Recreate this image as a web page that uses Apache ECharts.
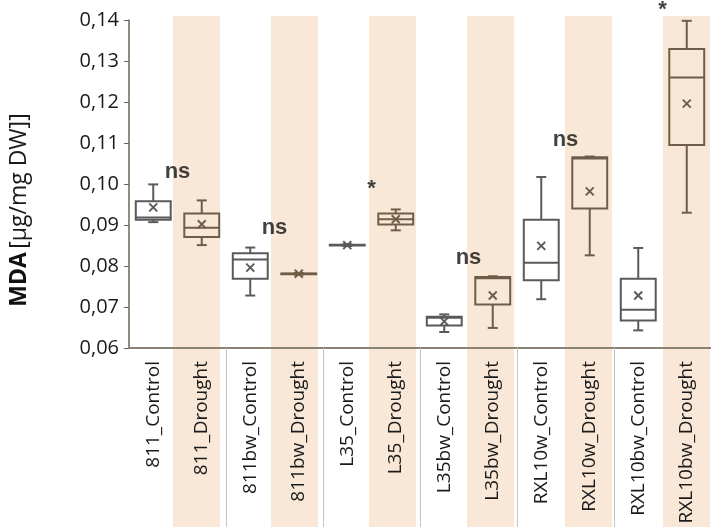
<!DOCTYPE html>
<html>
<head>
<meta charset="utf-8">
<script src="https://cdn.jsdelivr.net/npm/echarts@6/dist/echarts.min.js"></script>
<style>html,body{margin:0;padding:0;background:#fff;}#c{width:711px;height:530px;}</style>
</head>
<body>
<div id="c"></div>
<script>
const categories = ['811_Control','811_Drought','811bw_Control','811bw_Drought','L35_Control','L35_Drought','L35bw_Control','L35bw_Drought','RXL10w_Control','RXL10w_Drought','RXL10bw_Control','RXL10bw_Drought'];
const minV   = [0.0907, 0.0851, 0.0728, 0.0779, 0.0849, 0.0887, 0.0639, 0.0649, 0.0719, 0.0826, 0.0643, 0.0930];
const q1V    = [0.0913, 0.0871, 0.0769, 0.0780, 0.0850, 0.0901, 0.0655, 0.0706, 0.0765, 0.0940, 0.0667, 0.1095];
const medV   = [0.0918, 0.0893, 0.0816, 0.0781, 0.0851, 0.0914, 0.0674, 0.0770, 0.0808, 0.1062, 0.0693, 0.1260];
const q3V    = [0.0958, 0.0928, 0.0831, 0.0782, 0.0852, 0.0928, 0.0676, 0.0773, 0.0913, 0.1065, 0.0769, 0.1329];
const maxV   = [0.0999, 0.0960, 0.0845, 0.0783, 0.0853, 0.0938, 0.0682, 0.0775, 0.1017, 0.1067, 0.0844, 0.1398];
const meanV  = [0.0943, 0.0902, 0.0796, 0.0781, 0.0851, 0.0914, 0.0665, 0.0728, 0.0849, 0.0982, 0.0728, 0.1196];
const sigCat = [1, 3, 5, 7, 9, 11];
const sigText = ['ns', 'ns', '*', 'ns', 'ns', '*'];
const sigY = [0.1029, 0.0892, 0.0987, 0.0819, 0.1107, 0.1424];
const yTicks = {min: 0.06, max: 0.14, interval: 0.01};

const CTRL = '#5a5a5a', DRT = '#6f5d48', BAND = '#f9e8d7';
const isDrought = i => categories[i].indexOf('Drought') >= 0;

const boxData = categories.map((c, i) => [i, minV[i], q1V[i], medV[i], q3V[i], maxV[i], meanV[i]]);

function renderBox(params, api) {
  const i = api.value(0);
  const col = isDrought(i) ? DRT : CTRL;
  const bw = api.size([1, 0])[0] * 0.72;
  const capW = 10, xs = 4;
  const p = k => api.coord([i, api.value(k)]);
  const pMin = p(1), pQ1 = p(2), pMed = p(3), pQ3 = p(4), pMax = p(5), pMean = p(6);
  const cx = pMin[0];
  const st = {stroke: col, lineWidth: 2, fill: null};
  return {type: 'group', children: [
    {type: 'line', shape: {x1: cx, y1: pMax[1], x2: cx, y2: pQ3[1]}, style: st},
    {type: 'line', shape: {x1: cx - capW / 2, y1: pMax[1], x2: cx + capW / 2, y2: pMax[1]}, style: st},
    {type: 'line', shape: {x1: cx, y1: pMin[1], x2: cx, y2: pQ1[1]}, style: st},
    {type: 'line', shape: {x1: cx - capW / 2, y1: pMin[1], x2: cx + capW / 2, y2: pMin[1]}, style: st},
    {type: 'rect', shape: {x: cx - bw / 2, y: pQ3[1], width: bw, height: pQ1[1] - pQ3[1]}, style: {stroke: col, lineWidth: 2, fill: 'rgba(0,0,0,0)'}},
    {type: 'line', shape: {x1: cx - bw / 2, y1: pMed[1], x2: cx + bw / 2, y2: pMed[1]}, style: st},
    {type: 'line', shape: {x1: cx - xs, y1: pMean[1] - xs, x2: cx + xs, y2: pMean[1] + xs}, style: st},
    {type: 'line', shape: {x1: cx - xs, y1: pMean[1] + xs, x2: cx + xs, y2: pMean[1] - xs}, style: st}
  ]};
}

const chart = echarts.init(document.getElementById('c'), null, {renderer: 'canvas'});
chart.setOption({
  animation: false,
  backgroundColor: '#fff',
  grid: [
    {left: 123, right: 0, top: 20, bottom: 182, containLabel: false},
    {left: 123, right: 0, top: 16, bottom: 3, containLabel: false}
  ],
  xAxis: [
    {
      type: 'category', gridIndex: 0, data: categories, boundaryGap: true,
      axisLine: {show: true, lineStyle: {color: '#8a8372', width: 2}},
      axisTick: {show: true, length: 179, interval: function (idx) { return idx > 0 && idx % 2 === 0; }, lineStyle: {color: '#c9c4bb', width: 1}},
      axisLabel: {rotate: 90, interval: 0, margin: 13, fontFamily: 'Open Sans', fontSize: 19, color: '#1a1a1a'},
      splitLine: {show: false},
      z: 3
    },
    {type: 'value', gridIndex: 0, min: 0, max: 12, show: false},
    {type: 'category', gridIndex: 1, data: categories, show: false}
  ],
  yAxis: [
    {
      type: 'value', gridIndex: 0, min: yTicks.min, max: yTicks.max, interval: yTicks.interval,
      axisLine: {show: true, lineStyle: {color: '#6b6659', width: 1.5}},
      axisTick: {show: true, inside: false, length: 5, lineStyle: {color: '#6b6659'}},
      axisLabel: {margin: 10, fontFamily: 'Open Sans', fontSize: 20, color: '#1a1a1a',
        formatter: v => v.toFixed(2).replace('.', ',')},
      splitLine: {show: false},
      name: '{b|MDA} {r|[µg/mg DW]]}',
      nameLocation: 'middle', nameGap: 98, nameRotate: 90,
      nameTextStyle: {padding: [0, 52, 0, 0], rich: {
        b: {fontFamily: 'Open Sans', fontWeight: 'bold', fontSize: 23, color: '#111'},
        r: {fontFamily: 'Open Sans', fontSize: 23, color: '#1a1a1a'}
      }},
      z: 3
    },
    {type: 'value', gridIndex: 1, min: 0, max: 1, show: false}
  ],
  series: [
    {
      type: 'bar', xAxisIndex: 2, yAxisIndex: 1, silent: true, z: -10,
      barWidth: '96%', itemStyle: {color: BAND},
      data: categories.map((c, i) => isDrought(i) ? 1 : 0)
    },
    {
      type: 'custom', xAxisIndex: 0, yAxisIndex: 0, clip: false, z: 5,
      renderItem: renderBox,
      encode: {x: 0, y: [1, 2, 3, 4, 5, 6]},
      data: boxData
    },
    {
      type: 'scatter', xAxisIndex: 1, yAxisIndex: 0, clip: false, z: 6, silent: true,
      symbolSize: 0,
      label: {show: true, position: 'inside', formatter: p => p.data[2],
        fontFamily: 'Liberation Sans', fontWeight: 'bold', fontSize: 22, color: '#111'},
      data: sigCat.map((c, k) => [c, sigY[k], sigText[k]])
    }
  ]
});
</script>
</body>
</html>
